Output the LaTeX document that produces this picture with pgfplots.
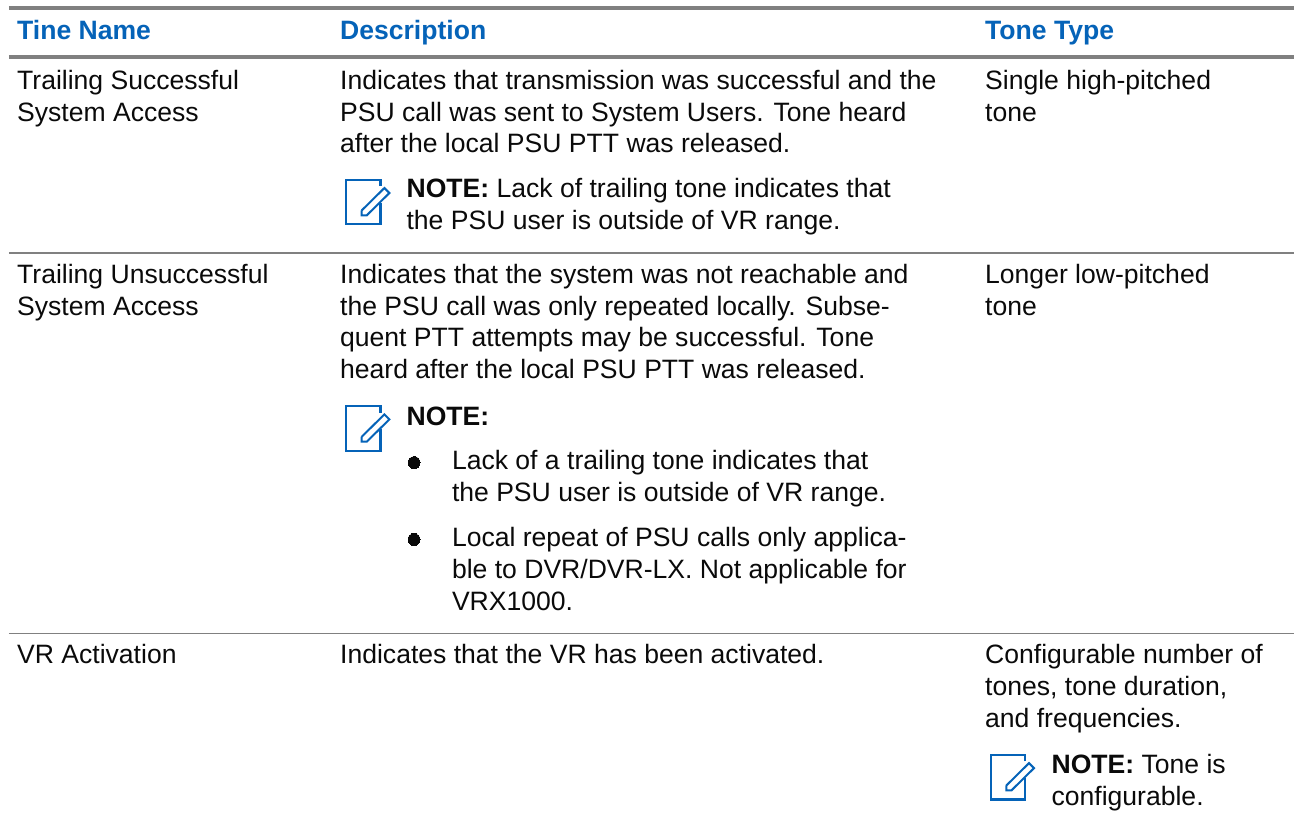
\documentclass[border=0pt]{standalone}
\usepackage{pgfplots}
\pgfplotsset{compat=1.18}
\usepackage{fontspec}
\setmainfont{Liberation Sans}
\definecolor{hdr}{HTML}{0563B8}
\definecolor{rule}{HTML}{808080}
\definecolor{txt}{HTML}{0A0A0A}
\newcommand{\icon}[2]{%
  \addplot[hdr,line width=2.2pt,no marks,line cap=butt] coordinates {(#1+34.3,#2+6.5) (#1+34.3,#2+0) (#1+0,#2+0) (#1+0,#2+44.7) (#1+34.3,#2+44.7) (#1+34.3,#2+23)};
  \addplot[hdr,line width=2pt,no marks] coordinates {(#1+15.6,#2+30.7) (#1+38.3,#2+8.3) (#1+43.3,#2+13.3) (#1+20.6,#2+35.7) (#1+15.6,#2+35.7) (#1+15.6,#2+30.7)};
}
\newcommand{\T}[3]{\node[anchor=base west,inner sep=0pt,text=txt] at (axis cs:#1,#2) {\fontsize{26.6}{30}\selectfont #3};}
\newcommand{\Hd}[3]{\node[anchor=base west,inner sep=0pt,text=hdr] at (axis cs:#1,#2) {\fontsize{26.6}{30}\selectfont\bfseries #3};}
\begin{document}
\begin{tikzpicture}
\begin{axis}[scale only axis,width=1296pt,height=826pt,xmin=0,xmax=1296,ymin=0,ymax=826,y dir=reverse,hide axis,clip=false]
\path (axis cs:0,0) rectangle (axis cs:1296,826);
\addplot[rule,line width=4pt,no marks] coordinates {(9,8) (1296,8)};
\addplot[rule,line width=4pt,no marks] coordinates {(9,57) (1296,57)};
\addplot[rule,line width=1.3pt,no marks] coordinates {(9,253.3) (1296,253.3)};
\addplot[rule,line width=1.3pt,no marks] coordinates {(9,634.7) (1296,634.7)};
\addplot[only marks,mark=*,mark size=6pt,mark options={fill=txt,draw=txt,line width=0pt}] coordinates {(414.7,463.3) (414.7,540.3)};
\icon{346.7}{180}
\icon{346.7}{406.7}
\icon{992.3}{756}
\Hd{17}{40}{Tine Name}
\Hd{340.5}{40}{Description}
\Hd{986.5}{40}{Tone Type}
\T{17}{89.5}{Trailing Successful}
\T{17}{121.5}{System Access}
\T{340.5}{89.5}{Indicates that transmission was successful and the}
\T{340.5}{121.5}{PSU call was sent to System Users. Tone heard}
\T{340.5}{153}{after the local PSU PTT was released.}
\T{986.5}{89.5}{Single high-pitched}
\T{986.5}{121.5}{tone}
\T{407}{198}{\textbf{NOTE:} Lack of trailing tone indicates that}
\T{407}{230}{the PSU user is outside of VR range.}
\T{17}{284}{Trailing Unsuccessful}
\T{17}{316}{System Access}
\T{340.5}{284}{Indicates that the system was not reachable and}
\T{340.5}{316}{the PSU call was only repeated locally. Subse-}
\T{340.5}{347.5}{quent PTT attempts may be successful. Tone}
\T{340.5}{379}{heard after the local PSU PTT was released.}
\T{986.5}{284}{Longer low-pitched}
\T{986.5}{316}{tone}
\T{407}{425.7}{\textbf{NOTE:}}
\T{452.5}{470.7}{Lack of a trailing tone indicates that}
\T{452.5}{502.7}{the PSU user is outside of VR range.}
\T{452.5}{547.7}{Local repeat of PSU calls only applica-}
\T{452.5}{579.5}{ble to DVR/DVR-LX. Not applicable for}
\T{452.5}{611.5}{VRX1000.}
\T{17}{665}{VR Activation}
\T{340.5}{665}{Indicates that the VR has been activated.}
\T{986.5}{665}{Configurable number of}
\T{986.5}{697}{tones, tone duration,}
\T{986.5}{729}{and frequencies.}
\T{1053}{775}{\textbf{NOTE:} Tone is}
\T{1053}{806.7}{configurable.}
\end{axis}
\end{tikzpicture}
\end{document}
